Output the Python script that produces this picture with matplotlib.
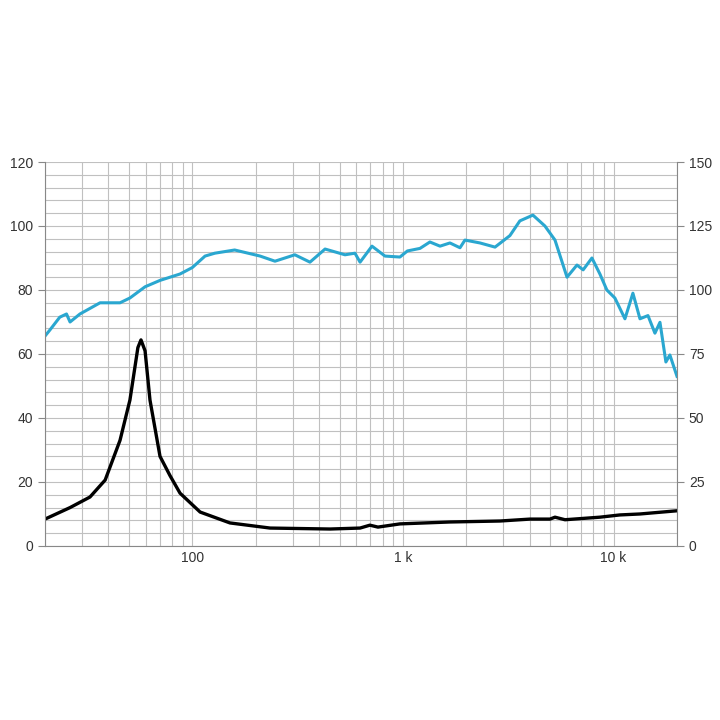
import matplotlib
matplotlib.use("Agg")
import matplotlib.pyplot as plt
from matplotlib.ticker import FixedLocator, NullFormatter

spl_f = [20,21.1,23.5,25.3,26.3,29.3,36.5,45.4,50.6,59.7,70.3,87.5,100,115,128,159,210,247,307,362,427,531,592,626,713,822,968,1050,1205,1343,1500,1672,1866,1970,2322,2736,3220,3590,4140,4720,5270,6010,6700,7170,7890,8610,9290,10140,11320,12350,13340,14560,15710,16600,17710,18500,20000]
spl_v = [65.6,67.5,71.5,72.5,70,72.5,76,76,77.5,81,83,85,87,90.6,91.5,92.5,90.6,89,91,88.7,92.8,91,91.5,88.7,93.7,90.6,90.3,92.2,93,95,93.7,94.7,93.2,95.6,94.7,93.4,97,101.6,103.4,100,95.6,84,87.8,86.3,90,85,80,77.5,71,79,71,72,66.5,69.9,57.5,59.7,53]
imp_f = [20,26.3,32.7,38.6,45.4,50.6,55.2,57.1,59.7,63,70.3,78.4,87.5,109,151,234,451,626,697,761,968,1672,2885,4010,4990,5270,5880,8610,10710,13340,20000]
imp_v = [8.4,12,15.3,20.6,33,45.6,62,64.4,61,45.6,28,22,16.5,10.6,7.2,5.6,5.3,5.6,6.5,5.9,6.9,7.5,7.8,8.4,8.4,9.0,8.2,9,9.7,10,11]

plt.rcParams['font.family'] = ['Liberation Sans', 'DejaVu Sans']
fig = plt.figure(figsize=(7.2, 7.2), dpi=100)
ax = fig.add_axes([0.0625, 0.2417, 0.8778, 0.5333])
ax.set_xscale('log')
ax.set_xlim(20, 20000)
ax.set_ylim(0, 120)
grid_x = [m * 10**e for e in range(1, 5) for m in range(1, 10) if 20 <= m * 10**e <= 20000]
ax.xaxis.set_major_locator(FixedLocator([100, 1000, 10000]))
ax.set_xticklabels(['100', '1 k', '10 k'])
ax.xaxis.set_minor_locator(FixedLocator(grid_x))
ax.xaxis.set_minor_formatter(NullFormatter())
ax.set_yticks(range(0, 121, 20))
ax.set_yticks(range(0, 121, 4), minor=True)
ax.grid(True, which='both', color='#c0c0c0', linewidth=0.8)
ax.set_axisbelow(True)
ax.tick_params(which='both', length=0, labelsize=10, colors='#333333')
ax.tick_params(axis='y', which='major', length=5, color='#888888')
for s in ['top', 'right']:
    ax.spines[s].set_visible(False)
for s in ['left', 'bottom']:
    ax.spines[s].set_color('#888888')
ax.plot(spl_f, spl_v, color='#2aa7d0', lw=2.2)
ax.plot(imp_f, imp_v, color='black', lw=2.4)
ax2 = ax.twinx()
ax2.set_ylim(0, 150)
ax2.set_yticks(range(0, 151, 25))
ax2.tick_params(length=5, color='#888888', labelsize=10, colors='#333333')
for s in ['top', 'left', 'bottom']:
    ax2.spines[s].set_visible(False)
ax2.spines['right'].set_color('#888888')
fig.savefig('out.png', dpi=100)
